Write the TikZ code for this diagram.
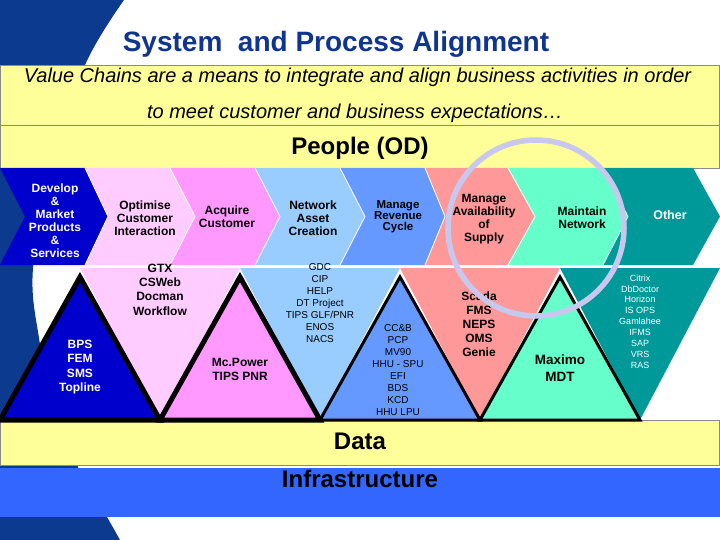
\documentclass[tikz,border=0pt]{standalone}
\usepackage{fontspec}
\setmainfont{Liberation Sans}
\definecolor{navybg}{HTML}{0B3A8F}
\definecolor{titleblue}{HTML}{0F3590}
\definecolor{band}{HTML}{FFFF99}
\definecolor{infra}{HTML}{3366FF}
\definecolor{cA}{HTML}{0000CC}
\definecolor{cB}{HTML}{FFCCFF}
\definecolor{cC}{HTML}{FF99FF}
\definecolor{cD}{HTML}{99CCFF}
\definecolor{cE}{HTML}{6699FF}
\definecolor{cF}{HTML}{FF9999}
\definecolor{cG}{HTML}{66FFCC}
\definecolor{cH}{HTML}{009999}
\definecolor{ring}{RGB}{200,200,238}
\definecolor{rule}{HTML}{8A8A8A}
\newcommand{\mychev}[5]{\fill[#5] (#1,168) -- (#3,168) -- (#4,216.5) -- (#3,265) -- (#1,265) -- (#2,216.5) -- cycle;}
\newcommand{\mysep}[2]{\draw[white, line width=0.8pt] (#1,168) -- (#2,216.5) -- (#1,265);}
\tikzset{
  bandbox/.style={fill=band, draw=rule, line width=0.9pt},
  chevtxt/.style={inner sep=0pt, align=center, font=\fontsize{12}{13}\selectfont\bfseries},
  tribold/.style={inner sep=0pt, align=center, font=\fontsize{12}{14.3}\selectfont\bfseries},
  trismall/.style={inner sep=0pt, align=center, font=\fontsize{10}{12}\selectfont},
  uptri/.style={draw=black, line join=miter},
  bigtxt/.style={inner sep=0pt, font=\fontsize{24}{28}\selectfont\bfseries}
}
\begin{document}
\begin{tikzpicture}[x=1pt, y=-1pt]
\useasboundingbox (0,0) rectangle (720,540);
\clip (0,0) rectangle (720,540);
\fill[white] (0,0) rectangle (720,540);
% navy background swoosh
\fill[navybg] (0,0) -- plot[smooth, tension=0.6] coordinates {(124,0) (85,65) (52,165) (33,268) (39,338) (55,410) (78,467) (107,517) (120,540)} -- (0,540) -- cycle;
% bands
\draw[bandbox] (0.5,65) rectangle (719.5,125);
\draw[bandbox] (0.5,125) rectangle (719.5,168);
\draw[bandbox] (0.5,420) rectangle (719.5,465);
\fill[infra] (0,468) rectangle (720,517);
% chevrons
\mychev{0}{25}{85}{108}{cA}
\mychev{85}{108}{170}{195}{cB}
\mychev{170}{195}{255}{280}{cC}
\mychev{255}{280}{340}{365}{cD}
\mychev{340}{365}{425}{445}{cE}
\mychev{425}{445}{508}{535}{cF}
\mychev{508}{535}{603}{628}{cG}
\mychev{603}{628}{693}{720}{cH}
\mysep{85}{108}\mysep{170}{195}\mysep{255}{280}\mysep{340}{365}
\mysep{425}{445}\mysep{508}{535}\mysep{603}{628}
% down triangles
\fill[cB] (80,268) -- (240,268) -- (160,420) -- cycle;
\fill[cD] (240,268) -- (400,268) -- (320,420) -- cycle;
\fill[cF] (400,268) -- (560,268) -- (480,420) -- cycle;
\fill[cH] (560,268) -- (720,268) -- (640,420) -- cycle;
% up triangles
\draw[uptri, fill=cA, line width=5pt] (0,420) -- (80,277) -- (160,420) -- cycle;
\draw[uptri, fill=cC, line width=5pt] (160,420) -- (240,277) -- (320,420) -- cycle;
\draw[uptri, fill=cE, line width=3pt] (320,420) -- (400,277) -- (480,420) -- cycle;
\draw[uptri, fill=cG, line width=3pt] (480,420) -- (560,277) -- (640,420) -- cycle;
% texts
\node[inner sep=0pt, text=titleblue, font=\fontsize{28}{32}\selectfont\bfseries] (title) at (336,44) {System~ and Process Alignment};
\node[inner sep=0pt, font=\fontsize{20}{24}\selectfont\itshape] (vc1) at (357.5,77) {Value Chains are a means to integrate and align business activities in order};
\node[inner sep=0pt, font=\fontsize{20}{24}\selectfont\itshape] (vc2) at (355,113) {to meet customer and business expectations…};
\node[bigtxt] (people) at (360,148) {People (OD)};
\node[bigtxt] (data) at (360,441) {Data};
\node[bigtxt] (infra) at (360,479) {Infrastructure};
\node[chevtxt, text=white] (ch1) at (55,220.5) {Develop\\\&\\Market\\Products\\\&\\Services};
\node[chevtxt] (ch2) at (145,218) {Optimise\\Customer\\Interaction};
\node[chevtxt] (ch3) at (227,216.5) {Acquire\\Customer};
\node[chevtxt] (ch4) at (313,218) {Network\\Asset\\Creation};
\node[chevtxt, font=\fontsize{11.5}{11}\selectfont\bfseries] (ch5) at (398,217) {Manage\\Revenue\\Cycle};
\node[chevtxt] (ch6) at (484,219.5) {Manage\\Availability\\of\\Supply};
\node[chevtxt] (ch7) at (582,217.5) {Maintain\\Network};
\node[chevtxt, text=white, font=\fontsize{12.5}{14}\selectfont\bfseries] (ch8) at (670,215) {Other};
\node[tribold, text=white, font=\fontsize{12}{14.5}\selectfont\bfseries] (t1) at (80,367) {BPS\\FEM\\SMS\\Topline};
\node[tribold] (t2) at (160,289.5) {GTX\\CSWeb\\Docman\\Workflow};
\node[tribold, font=\fontsize{12}{14}\selectfont\bfseries] (t3) at (240,369) {Mc.Power\\TIPS PNR};
\node[trismall] (t4) at (320,303) {GDC\\CIP\\HELP\\DT Project\\TIPS GLF/PNR\\ENOS\\NACS};
\node[trismall] (t5) at (398,370) {CC\&B\\PCP\\MV90\\HHU - SPU\\EFI\\BDS\\KCD\\HHU LPU};
\node[tribold, font=\fontsize{12}{14}\selectfont\bfseries] (t6) at (479,324) {Scada\\FMS\\NEPS\\OMS\\Genie};
\node[tribold, font=\fontsize{13.5}{17}\selectfont\bfseries] (t7) at (560,368.5) {Maximo\\MDT};
\node[inner sep=0pt, align=center, text=white, font=\fontsize{9}{10.9}\selectfont] (t8) at (640,321.5) {Citrix\\DbDoctor\\Horizon\\IS OPS\\Gamlahee\\IFMS\\SAP\\VRS\\RAS};
% ring
\draw[ring, line width=5.5pt] (536,228) circle (88);
\end{tikzpicture}
\end{document}
